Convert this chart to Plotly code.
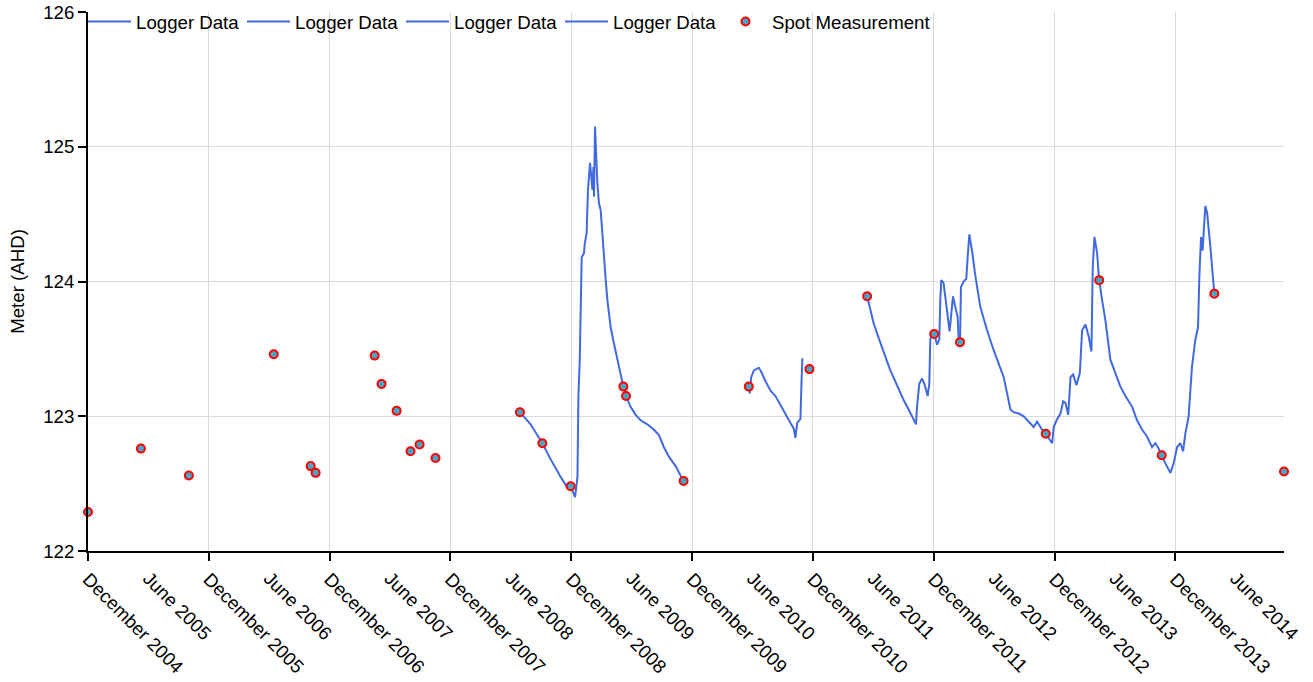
import datetime as dt
import plotly.graph_objects as go

# ---------------- data (time as decimal years, level in m AHD) ----------------
spot_years = [2004.915, 2005.353, 2005.750, 2006.453, 2006.759, 2006.800, 2007.289,
              2007.346, 2007.471, 2007.586, 2007.661, 2007.793, 2008.491, 2008.676,
              2008.910, 2009.346, 2009.368, 2009.845, 2010.385, 2010.887, 2011.365,
              2011.921, 2012.134, 2012.842, 2013.284, 2013.802, 2014.238, 2014.815]
spot_values = [122.29, 122.76, 122.56, 123.46, 122.63, 122.58, 123.45,
               123.24, 123.04, 122.74, 122.79, 122.69, 123.03, 122.80,
               122.48, 123.22, 123.15, 122.52, 123.22, 123.35, 123.89,
               123.61, 123.55, 122.87, 124.01, 122.71, 123.91, 122.59]

logger1_years = [2008.491, 2008.579, 2008.676, 2008.745, 2008.827, 2008.883, 2008.910,
                 2008.946, 2008.966, 2008.974, 2008.985, 2008.993, 2009.001, 2009.020,
                 2009.026, 2009.042, 2009.048, 2009.053, 2009.070, 2009.078, 2009.090,
                 2009.098, 2009.103, 2009.111, 2009.119, 2009.131, 2009.144, 2009.158,
                 2009.172, 2009.186, 2009.200, 2009.214, 2009.241, 2009.268, 2009.296,
                 2009.324, 2009.346, 2009.368, 2009.406, 2009.448, 2009.489, 2009.545,
                 2009.599, 2009.641, 2009.682, 2009.723, 2009.779, 2009.820, 2009.845]
logger1_values = [123.03, 122.94, 122.80, 122.68, 122.55, 122.47, 122.48,
                  122.40, 122.55, 123.15, 123.42, 123.81, 124.18, 124.21,
                  124.28, 124.36, 124.56, 124.68, 124.88, 124.78, 124.68,
                  124.85, 124.63, 125.15, 124.98, 124.73, 124.58, 124.53,
                  124.36, 124.16, 124.01, 123.86, 123.66, 123.54, 123.42,
                  123.29, 123.22, 123.15, 123.07, 123.01, 122.97, 122.94,
                  122.90, 122.86, 122.77, 122.70, 122.63, 122.56, 122.52]

logger2_years = [2010.385, 2010.393, 2010.405, 2010.427, 2010.468, 2010.488, 2010.523,
                 2010.565, 2010.606, 2010.647, 2010.689, 2010.730, 2010.757, 2010.771,
                 2010.786, 2010.813, 2010.821, 2010.829]
logger2_values = [123.22, 123.17, 123.29, 123.34, 123.36, 123.33, 123.26,
                  123.19, 123.15, 123.08, 123.02, 122.95, 122.91, 122.84,
                  122.95, 122.98, 123.24, 123.43]

logger3_years = [2011.365, 2011.392, 2011.419, 2011.461, 2011.502, 2011.557, 2011.613,
                 2011.667, 2011.709, 2011.750, 2011.770, 2011.778, 2011.797, 2011.820,
                 2011.839, 2011.855, 2011.866, 2011.880, 2011.888, 2011.902, 2011.921,
                 2011.944, 2011.963, 2011.971, 2011.979, 2011.998, 2012.026, 2012.048,
                 2012.062, 2012.076, 2012.095, 2012.114, 2012.122, 2012.134]
logger3_values = [123.89, 123.79, 123.69, 123.58, 123.47, 123.34, 123.23,
                  123.12, 123.05, 122.98, 122.94, 123.07, 123.24, 123.28,
                  123.24, 123.19, 123.15, 123.24, 123.57, 123.60, 123.61,
                  123.53, 123.57, 123.86, 124.01, 123.99, 123.81, 123.63,
                  123.76, 123.89, 123.81, 123.74, 123.59, 123.55]

logger4_years = [2012.134, 2012.142, 2012.164, 2012.186, 2012.197, 2012.211, 2012.233,
                 2012.261, 2012.302, 2012.357, 2012.412, 2012.453, 2012.495, 2012.523,
                 2012.550, 2012.577, 2012.619, 2012.660, 2012.702, 2012.743, 2012.771,
                 2012.812, 2012.842, 2012.881, 2012.895, 2012.908, 2012.937, 2012.964,
                 2012.986, 2013.005, 2013.028, 2013.047, 2013.069, 2013.096, 2013.124,
                 2013.143, 2013.171, 2013.198, 2013.220, 2013.231, 2013.245, 2013.267,
                 2013.284, 2013.309, 2013.336, 2013.377, 2013.419, 2013.460, 2013.502,
                 2013.557, 2013.598, 2013.640, 2013.681, 2013.722, 2013.750, 2013.777,
                 2013.802, 2013.832, 2013.874, 2013.901, 2013.929, 2013.957, 2013.979,
                 2013.998, 2014.025, 2014.053, 2014.081, 2014.103, 2014.114, 2014.128,
                 2014.141, 2014.149, 2014.163, 2014.178, 2014.191, 2014.205, 2014.219,
                 2014.238]
logger4_values = [123.55, 123.96, 124.00, 124.02, 124.18, 124.35, 124.23,
                  124.04, 123.81, 123.64, 123.49, 123.39, 123.29, 123.17,
                  123.05, 123.03, 123.02, 123.00, 122.96, 122.92, 122.96,
                  122.90, 122.87, 122.82, 122.80, 122.92, 122.98, 123.02,
                  123.11, 123.10, 123.01, 123.29, 123.31, 123.23, 123.32,
                  123.64, 123.68, 123.59, 123.48, 124.11, 124.33, 124.21,
                  124.01, 123.86, 123.71, 123.42, 123.32, 123.22, 123.15,
                  123.07, 122.97, 122.90, 122.85, 122.77, 122.80, 122.76,
                  122.71, 122.65, 122.58, 122.65, 122.77, 122.80, 122.74,
                  122.87, 123.00, 123.37, 123.57, 123.66, 124.04, 124.33,
                  124.23, 124.36, 124.56, 124.51, 124.41, 124.26, 124.11,
                  123.91]

december_years = list(range(2004, 2014))
june_years = list(range(2005, 2015))
y_ticks = [122, 123, 124, 125, 126]


def to_date(t):
    y = int(t)
    start = dt.datetime(y, 1, 1)
    end = dt.datetime(y + 1, 1, 1)
    return start + (t - y) * (end - start)


def to_dates(ts):
    return [to_date(t) for t in ts]


FONT = "Arial, 'Liberation Sans', sans-serif"
LINE_COLOR = "#4169E1"

fig = go.Figure()
segments = [(logger1_years, logger1_values), (logger2_years, logger2_values),
            (logger3_years, logger3_values), (logger4_years, logger4_values)]
for yrs, vals in segments:
    fig.add_trace(go.Scatter(x=to_dates(yrs), y=vals, mode="lines", name="Logger Data",
                             line=dict(color=LINE_COLOR, width=2)))

fig.add_trace(go.Scatter(x=to_dates(spot_years), y=spot_values, mode="markers",
                         name="Spot Measurement", cliponaxis=False, legendwidth=200,
                         marker=dict(size=8, color="#48a6c4",
                                     line=dict(color="#ff0000", width=2))))

x_range = [to_date(min(spot_years)), to_date(max(spot_years))]

# empty helper trace so the secondary (June-label) axis is rendered
fig.add_trace(go.Scatter(x=x_range, y=[None, None], xaxis="x2", yaxis="y",
                         mode="lines", showlegend=False, hoverinfo="skip"))

dec_vals = [dt.datetime(y, 12, 1) for y in december_years]
dec_text = [f"December {y}" for y in december_years]
jun_vals = [dt.datetime(y, 6, 1) for y in june_years]
jun_text = [f"June {y}" for y in june_years]

tickfont = dict(family=FONT, size=18.67, color="#000000")

fig.update_layout(
    width=1313, height=682,
    margin=dict(l=88, r=29, t=12, b=131, autoexpand=False),
    paper_bgcolor="white", plot_bgcolor="white",
    font=dict(family=FONT, size=18.67, color="#000000"),
    showlegend=True,
    legend=dict(orientation="h", x=-5 / 1196, xanchor="left", y=1.017, yanchor="top",
                bgcolor="rgba(0,0,0,0)", itemwidth=43, entrywidth=101,
                entrywidthmode="pixels", font=dict(family=FONT, size=18.67),
                traceorder="normal"),
    xaxis=dict(type="date", range=x_range, tickmode="array", tickvals=dec_vals,
               ticktext=dec_text, tickangle=45, tickfont=tickfont, automargin=False,
               showgrid=True, gridcolor="#dadada", gridwidth=1.2,
               ticks="outside", ticklen=8, tickwidth=1.5, tickcolor="#000000",
               showline=True, linecolor="#000000", linewidth=2, zeroline=False),
    xaxis2=dict(type="date", range=x_range, overlaying="x", anchor="y", side="bottom",
                tickmode="array", tickvals=jun_vals, ticktext=jun_text, tickangle=45,
                tickfont=tickfont, showgrid=False, ticks="outside", ticklen=8,
                automargin=False, tickcolor="rgba(0,0,0,0)", showline=False,
                zeroline=False),
    yaxis=dict(range=[122, 126], tickmode="array", tickvals=y_ticks, automargin=False,
               tickfont=tickfont, showgrid=True, gridcolor="#dadada", gridwidth=1.2,
               ticks="outside", ticklen=8, tickwidth=1.5, tickcolor="#000000",
               showline=True, linecolor="#000000", linewidth=2, zeroline=False,
               title=dict(text="Meter (AHD)", font=dict(family=FONT, size=18.67),
                          standoff=14)),
)

fig.write_html("out.html")
